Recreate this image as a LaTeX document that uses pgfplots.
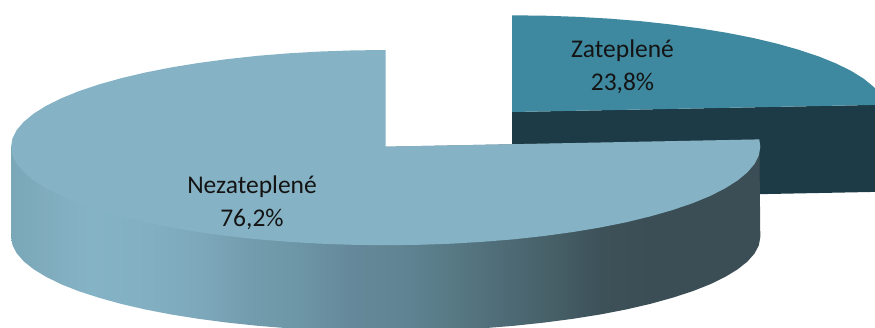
\documentclass[border=0pt]{standalone}
\usepackage{pgfplots}
\pgfplotsset{compat=1.18}
\usepackage{fontspec}
\setmainfont{Carlito}
\definecolor{zatFace}{HTML}{3E89A0}
\definecolor{zatSide}{HTML}{1C3B47}
\definecolor{nezFace}{HTML}{85B3C5}
% Side wall of the large slice: light on the left, dark towards the right
\pgfdeclarehorizontalshading{nezSide}{100bp}{
  rgb(0bp)=(0.475,0.659,0.722);
  rgb(25bp)=(0.475,0.659,0.722);
  rgb(26.9bp)=(0.498,0.671,0.737);
  rgb(30.3bp)=(0.522,0.702,0.776);
  rgb(34.3bp)=(0.510,0.686,0.761);
  rgb(37.6bp)=(0.490,0.659,0.733);
  rgb(40.9bp)=(0.451,0.616,0.682);
  rgb(44.3bp)=(0.424,0.584,0.647);
  rgb(47.6bp)=(0.396,0.537,0.604);
  rgb(51bp)=(0.380,0.518,0.580);
  rgb(54.3bp)=(0.341,0.478,0.522);
  rgb(57.6bp)=(0.310,0.424,0.467);
  rgb(61bp)=(0.278,0.376,0.408);
  rgb(64.3bp)=(0.239,0.318,0.349);
  rgb(67.6bp)=(0.235,0.306,0.333);
  rgb(100bp)=(0.235,0.306,0.333)}
\begin{document}
\begin{tikzpicture}
\begin{axis}[
  at={(0,0)}, anchor=south west,
  scale only axis, width=875pt, height=327pt,
  xmin=0, xmax=875, ymin=0, ymax=327, y dir=reverse,
  hide axis, clip=true, clip mode=global,
  every axis plot/.append style={draw=none, line width=0pt, mark=none}]

% Zateplene, cut face
\addplot[fill=zatSide] coordinates {(512,112) (885.5,104.7) (885.5,191.7) (512,199)} -- cycle;
% Zateplene, top face (23.8 % = 85.68 degrees)
\addplot[fill=zatFace] table {
x y
512 112
512.0 15.3
544.7 15.7
577.0 16.8
608.9 18.6
640.1 21.1
670.3 24.4
699.3 28.3
726.9 32.8
752.8 37.9
776.9 43.6
798.9 49.8
818.9 56.5
836.4 63.6
851.5 71.1
864.0 78.9
873.8 87.0
880.9 95.2
885.2 103.6
885.5 104.7
} -- cycle;

% Nezateplene, outer wall
\addplot[shade, shading=nezSide] table {
x y
11.1 146.7
11.1 237.0
12.5 245.2
16.8 253.4
23.9 261.5
33.7 269.3
46.2 276.9
61.3 284.3
78.8 291.2
98.8 297.7
120.8 303.8
144.9 309.4
170.8 314.4
198.4 318.8
227.4 322.6
257.6 325.8
288.8 328.3
320.7 330.1
353.0 331.1
385.7 331.5
418.4 331.1
450.7 330.1
482.6 328.3
513.8 325.8
544.0 322.6
573.0 318.8
600.6 314.4
626.5 309.4
650.6 303.8
672.6 297.7
692.6 291.2
710.1 284.3
725.2 276.9
737.7 269.3
747.5 261.5
754.6 253.4
758.9 245.2
760.3 237.0
759.3 139.4
385.7 146.7
} -- cycle;

% Nezateplene, top face (76.2 %)
\addplot[fill=nezFace] table {
x y
385.7 146.7
385.7 50.0
353.0 50.4
320.7 51.5
288.8 53.3
257.6 55.8
227.4 59.1
198.4 63.0
170.8 67.5
144.9 72.6
120.8 78.3
98.8 84.5
78.8 91.2
61.3 98.3
46.2 105.8
33.7 113.6
23.9 121.7
16.8 129.9
12.5 138.3
11.1 146.7
12.5 155.3
16.8 163.8
23.9 172.2
33.7 180.4
46.2 188.3
61.3 196.0
78.8 203.2
98.8 210.0
120.8 216.3
144.9 222.2
170.8 227.4
198.4 232.0
227.4 236.0
257.6 239.3
288.8 241.8
320.7 243.7
353.0 244.8
385.7 245.2
418.4 244.8
450.7 243.7
482.6 241.8
513.8 239.3
544.0 236.0
573.0 232.0
600.6 227.4
626.5 222.2
650.6 216.3
672.6 210.0
692.6 203.2
710.1 196.0
725.2 188.3
737.7 180.4
747.5 172.2
754.6 163.8
758.9 155.3
760.3 146.7
759.3 139.4
} -- cycle;

\node[align=center, font=\fontsize{25.5}{33}\selectfont, text=black!92, inner sep=0pt] at (axis cs:622.5,66.5) {Zateplené\\23,8\%};
\node[align=center, font=\fontsize{25.5}{33}\selectfont, text=black!92, inner sep=0pt] at (axis cs:252,203) {Nezateplené\\76,2\%};
\end{axis}
\pgfresetboundingbox
\path[use as bounding box] (0,0) rectangle (875pt,327pt);
\end{tikzpicture}
\end{document}
